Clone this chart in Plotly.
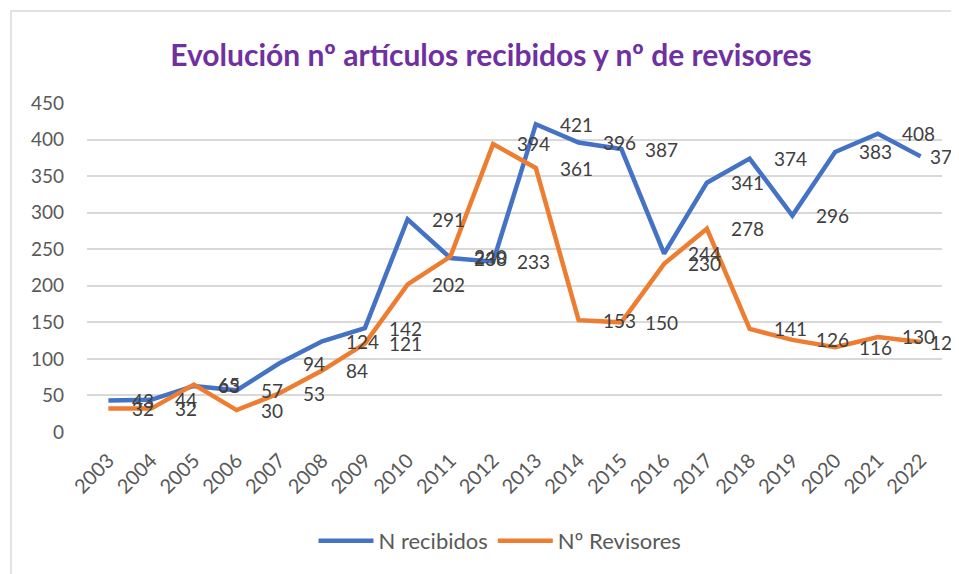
import plotly.graph_objects as go

years = [str(y) for y in range(2003, 2023)]
recibidos = [43, 44, 63, 57, 94, 124, 142, 291, 238, 233, 421, 396, 387, 244, 341, 374, 296, 383, 408, 377]
revisores = [32, 32, 65, 30, 53, 84, 121, 202, 240, 394, 361, 153, 150, 230, 278, 141, 126, 116, 130, 123]
y_ticks = [0, 50, 100, 150, 200, 250, 300, 350, 400, 450]

BLUE = "#4472C4"
ORANGE = "#ED7D31"
FONT = "Lato"

# page body has an 8px margin, so the figure is laid out 8px smaller
W, H = 951, 566
L, R, T, B = 79, 17, 95, 142
PW, PH = W - L - R, H - T - B

fig = go.Figure()
fig.add_trace(go.Scatter(x=years, y=recibidos, mode="lines", name="N recibidos",
                         line=dict(color=BLUE, width=4.5)))
fig.add_trace(go.Scatter(x=years, y=revisores, mode="lines", name="Nº Revisores",
                         line=dict(color=ORANGE, width=4.5)))

annotations = []
for series in (recibidos, revisores):
    for i, v in enumerate(series):
        annotations.append(dict(x=i, y=v, text=str(v), showarrow=False,
                                xref="x", yref="y",
                                xanchor="left", yanchor="middle",
                                xshift=7 if i == len(series) - 1 else 22,
                                font=dict(family=FONT, size=19, color="#404040")))

fig.update_layout(
    width=W, height=H,
    margin=dict(l=L, r=R, t=T, b=B),
    paper_bgcolor="white", plot_bgcolor="white",
    title=dict(text="<b>Evolución nº artículos recibidos y nº de revisores</b>",
               x=483 / W, xanchor="center", y=1 - 47 / H, yanchor="middle",
               font=dict(family=FONT, size=30, color="#7030A0")),
    xaxis=dict(type="category", range=[-0.5, 19.5], tickangle=-45,
               showgrid=False, zeroline=False, showline=False, ticks="",
               ticklabelstandoff=12,
               tickfont=dict(family=FONT, size=20, color="#595959")),
    yaxis=dict(range=[0, 450], tickvals=y_ticks, showgrid=True,
               gridcolor="#D9D9D9", gridwidth=1.5, zeroline=False, showline=False,
               ticks="", ticklabelstandoff=22,
               tickfont=dict(family=FONT, size=19, color="#595959")),
    legend=dict(orientation="h", x=(492 - L) / PW, xanchor="center",
                y=(H - B - 533) / PH, yanchor="middle",
                font=dict(family=FONT, size=22, color="#595959"),
                itemwidth=55, tracegroupgap=0),
    annotations=annotations,
    shapes=[dict(type="rect", xref="paper", yref="paper",
                 x0=(3 - L) / PW, x1=(W + 10 - L) / PW,
                 y0=(H - B - (H + 10)) / PH, y1=(H - B - 3) / PH,
                 line=dict(color="#D9D9D9", width=1.5), fillcolor="rgba(0,0,0,0)",
                 layer="below")],
)

fig.write_html("out.html")
